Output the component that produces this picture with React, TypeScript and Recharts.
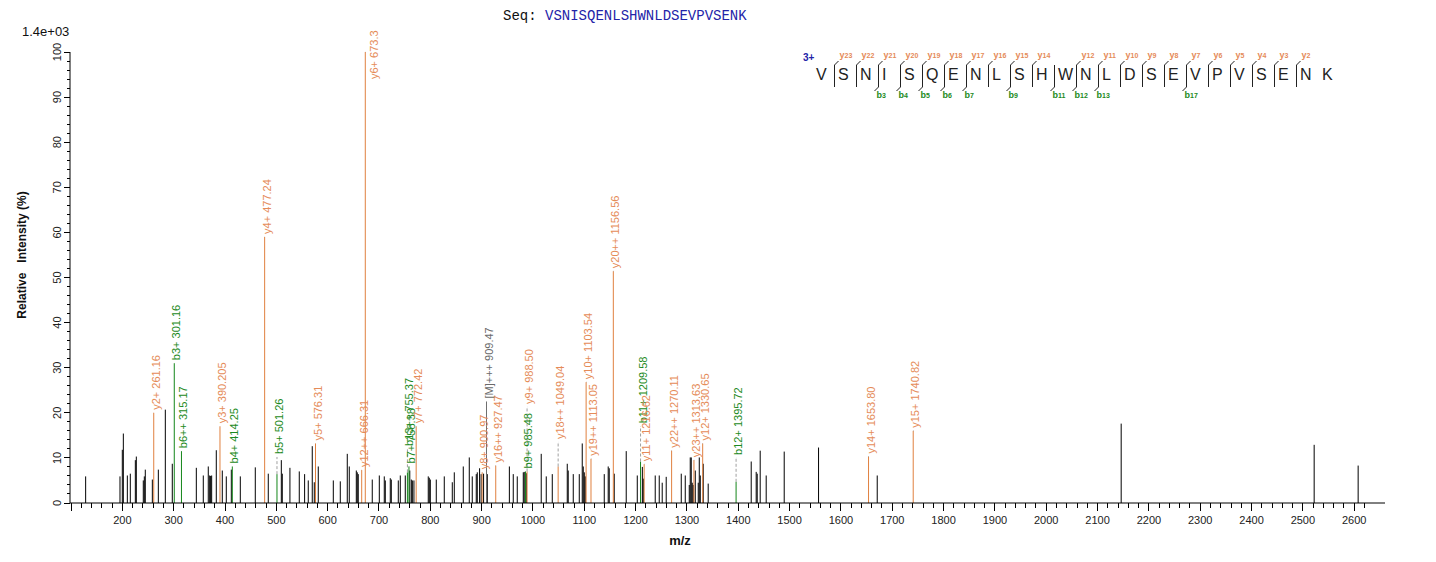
import { ScatterChart, Scatter, XAxis, YAxis, ErrorBar } from 'recharts';

const FONT = 'Arial, "Liberation Sans", sans-serif';

// unannotated peaks: [m/z, relative intensity %]
const otherPeaks: [number, number][] = [
  [128.5, 5.9], [195.4, 5.9], [199.9, 11.8], [201.9, 15.4], [209.7, 6.1], [215.5, 6.5],
  [225.3, 9.5], [227.2, 10.3], [240.8, 5.0], [242.8, 5.9], [244.7, 7.4], [258.4, 5.2],
  [270.1, 7.4], [283.7, 20.7], [297.3, 8.7], [344.1, 7.8], [357.7, 6.1], [367.4, 8.1],
  [370.1, 6.1], [372.0, 6.0], [374.0, 6.1], [383.0, 11.7], [394.7, 7.2], [402.5, 5.9],
  [412.3, 7.4], [429.8, 5.9], [459.0, 7.9], [484.3, 6.5], [509.7, 9.5], [511.6, 6.5],
  [526.5, 7.8], [544.7, 7.0], [555.1, 6.4], [562.2, 5.0], [570.0, 12.6], [573.9, 4.6],
  [581.7, 8.1], [611.0, 5.0], [624.6, 4.8], [638.2, 10.9], [642.1, 8.1], [655.8, 7.2],
  [657.7, 6.8], [659.6, 6.4], [686.9, 5.2], [700.6, 6.1], [710.3, 5.9], [712.3, 5.0],
  [722.0, 5.5], [724.0, 5.2], [737.6, 5.0], [741.5, 6.1], [751.2, 6.1], [760.0, 7.2],
  [763.0, 5.2], [765.0, 5.0], [768.1, 5.0], [796.0, 5.9], [798.0, 5.6], [800.0, 5.2],
  [811.6, 5.2], [827.2, 5.9], [842.8, 4.6], [846.7, 6.8], [864.2, 8.1], [875.9, 10.1],
  [881.7, 5.9], [889.5, 6.4], [891.5, 6.8], [896.0, 7.7], [899.0, 6.4], [903.8, 6.5],
  [911.0, 6.4], [954.0, 8.1], [961.6, 6.4], [969.4, 5.9], [981.1, 6.8], [983.0, 6.9],
  [987.0, 6.6], [1016.1, 10.9], [1025.9, 5.9], [1037.6, 6.4], [1066.8, 8.7], [1068.7, 7.2],
  [1078.5, 6.4], [1090.2, 6.4], [1096.0, 13.2], [1098.0, 8.1], [1100.0, 6.8], [1101.9, 5.9],
  [1138.9, 6.4], [1146.6, 8.1], [1148.6, 7.7], [1158.3, 6.5], [1181.7, 11.5], [1203.2, 6.1],
  [1213.1, 8.0], [1215.0, 5.4], [1238.2, 6.1], [1246.0, 6.1], [1251.8, 4.5], [1259.6, 5.8],
  [1288.9, 6.5], [1296.7, 6.1], [1304.5, 4.0], [1306.4, 10.1], [1308.4, 10.1], [1310.3, 4.5],
  [1312.3, 4.0], [1316.2, 7.2], [1322.0, 4.5], [1324.0, 10.1], [1326.0, 6.1], [1331.7, 8.7],
  [1341.4, 4.3], [1425.2, 9.2], [1434.9, 6.9], [1436.9, 6.5], [1442.7, 11.6], [1454.4, 6.1],
  [1489.5, 11.4], [1556.4, 12.3], [1670.7, 6.1], [2146.0, 17.6], [2522.0, 12.9], [2607.7, 8.3],
];

// annotated ions: [ion, m/z as printed, relative intensity %]
const yIons: [string, string, number][] = [
  ['y2+', '261.16', 20.0], ['y3+', '390.205', 17.0], ['y4+', '477.24', 59.0],
  ['y5+', '576.31', 13.2], ['y12++', '666.31', 7.3], ['y6+', '673.3', 100],
  ['y7+', '772.42', 17.0], ['y8+', '900.97', 6.8], ['y16++', '927.47', 8.3],
  ['y9+', '988.50', 7.0], ['y18++', '1049.04', 8.1], ['y10+', '1103.54', 26.8],
  ['y19++', '1113.05', 9.8], ['y20++', '1156.56', 51.4], ['y11+', '1216.62', 8.6],
  ['y22++', '1270.11', 11.6], ['y23++', '1313.63', 9.5], ['y12+', '1330.65', 13.2],
  ['y14+', '1653.80', 10.3], ['y15+', '1740.82', 16.0],
];

const bIons: [string, string, number][] = [
  ['b3+', '301.16', 31.0], ['b6++', '315.17', 11.5], ['b4+', '414.25', 8.1],
  ['b5+', '501.26', 6.4], ['b13++', '755.37', 6.8], ['b7+', '758.38', 8.1],
  ['b9+', '985.48', 7.0], ['b11+', '1209.58', 9.2], ['b12+', '1395.72', 4.7],
];

const precursorIons: [string, string, number][] = [['[M]+++', '909.47', 22.5]];

// sequence coverage map
const peptide = 'VSNISQENLSHWNLDSEVPVSENK';
const precursorCharge = '3+';
const yCoverage = [23, 22, 21, 20, 19, 18, 17, 16, 15, 14, 12, 11, 10, 9, 8, 7, 6, 5, 4, 3, 2];
const bCoverage = [3, 4, 5, 6, 7, 9, 11, 12, 13, 17];

const xMajorTicks = [200, 300, 400, 500, 600, 700, 800, 900, 1000, 1100, 1200, 1300, 1400,
  1500, 1600, 1700, 1800, 1900, 2000, 2100, 2200, 2300, 2400, 2500, 2600];
const yMajorTicks = [0, 10, 20, 30, 40, 50, 60, 70, 80, 90, 100];
const intensityScale = '1.4e+03';

// labels that sit above their peak, at this intensity level
const raisedLabels: Record<string, number> = {
  'y9+': 21.3, 'y18++': 13.5, 'b5+': 10.2, 'b12+': 10, 'b11+': 17, 'b13++': 12,
};

const COLORS = {
  y: '#e0803f', yText: '#e58b58',
  b: '#14861a', bText: '#1c8a22',
  m: '#6f6f6f', mText: '#6a6a6a',
  seqBlue: '#2323a8',
};

const xTicks: number[] = [];
for (let v = 100; v <= 2620; v += 20) xTicks.push(v);
const yTicks: number[] = [];
for (let v = 0; v <= 100; v += 2) yTicks.push(v);

const peakRows = (rows: [number, number][]) =>
  rows.map(([mz, int]) => ({ mz, int, err: [int, 0] }));

const ionRows = (rows: [string, string, number][]) =>
  peakRows(rows.map(([, mzText, int]) => [parseFloat(mzText), int] as [number, number]));

const labelRows = (rows: [string, string, number][], color: string) =>
  rows.map(([ion, mzText, int]) => {
    const level = raisedLabels[ion] ?? int;
    return { mz: parseFloat(mzText), int: level, peak: int, err: [level - int, 0], text: `${ion} ${mzText}`, color };
  });

const labels = [
  ...labelRows(precursorIons, COLORS.mText),
  ...labelRows(bIons, COLORS.bText),
  ...labelRows(yIons, COLORS.yText),
];

const noMark = () => <g />;

function PeakLabel(props: any) {
  const { cx, cy, payload } = props;
  if (cx == null || cy == null) return <g />;
  // the base peak has no room above it, so its label goes alongside
  const beside = payload.peak >= 95;
  const y = beside ? cy + 27 : cy - 3;
  return (
    <text
      transform={`translate(${cx},${y}) rotate(-90)`}
      dy={beside ? 13 : 6}
      textAnchor="start"
      fontSize={11}
      fontFamily={FONT}
      fill={payload.color}
    >
      {payload.text}
    </text>
  );
}

function XTick(props: any) {
  const { x, y, payload } = props;
  const major = payload.value % 100 === 0;
  return (
    <g>
      <line x1={x} x2={x} y1={y} y2={y + (major ? 8 : 5)} stroke="#000" shapeRendering="crispEdges" />
      {major && xMajorTicks.includes(payload.value) && (
        <text x={x} y={y + 21} textAnchor="middle" fontSize={11} fontFamily={FONT} fill="#222">
          {payload.value}
        </text>
      )}
    </g>
  );
}

function YTick(props: any) {
  const { x, y, payload } = props;
  const major = yMajorTicks.includes(payload.value);
  return (
    <g>
      <line x1={x - (major ? 6 : 3)} x2={x} y1={y} y2={y} stroke="#000" shapeRendering="crispEdges" />
      {major && (
        <text transform={`translate(${x - 9},${y}) rotate(-90)`} textAnchor="middle" fontSize={11} fontFamily={FONT} fill="#222">
          {payload.value}
        </text>
      )}
    </g>
  );
}

// fragment coverage drawn over the peptide letters
function CoverageMap() {
  const left = 816;
  const step = 22;
  const cut = (i: number) => left + step * i - 3.5;
  const sites = Array.from(new Set([...yCoverage.map((n) => peptide.length - n), ...bCoverage])).sort((a, b) => a - b);
  return (
    <g fontFamily={FONT}>
      <text x={803} y={61} fontSize={10} fontWeight="bold" fill={COLORS.seqBlue}>{precursorCharge}</text>
      {peptide.split('').map((aa, i) => (
        <text key={i} x={left + step * i} y={80} fontSize={16} fill="#222">{aa}</text>
      ))}
      {sites.map((i) => (
        <line key={i} x1={cut(i)} x2={cut(i)} y1={65} y2={87} stroke="#222" strokeWidth={1} />
      ))}
      {yCoverage.map((n) => {
        const x = cut(peptide.length - n);
        return (
          <g key={`y${n}`}>
            <line x1={x} y1={65} x2={x + 4} y2={61} stroke="#222" />
            <text x={x + 5} y={58} fill={COLORS.yText} fontWeight="bold">
              <tspan fontSize={9}>y</tspan><tspan fontSize={7}>{n}</tspan>
            </text>
          </g>
        );
      })}
      {bCoverage.map((n) => {
        const x = cut(n);
        return (
          <g key={`b${n}`}>
            <line x1={x} y1={87} x2={x - 4} y2={91} stroke="#222" />
            <text x={x - 2} y={98} fill={COLORS.bText} fontWeight="bold">
              <tspan fontSize={9}>b</tspan><tspan fontSize={7}>{n}</tspan>
            </text>
          </g>
        );
      })}
    </g>
  );
}

export default function App() {
  return (
    <div style={{ position: 'absolute', left: 0, top: 0, width: 1436, height: 562, background: '#fff', fontFamily: FONT }}>
      <ScatterChart width={1436} height={562} margin={{ top: 52, right: 51, bottom: 29, left: 30 }}>
        <XAxis
          type="number"
          dataKey="mz"
          domain={[98, 2660]}
          ticks={xTicks}
          interval={0}
          tickSize={0}
          tickMargin={0}
          tickLine={false}
          tick={(p: any) => <XTick {...p} />}
          axisLine={{ stroke: '#000' }}
          height={30}
        />
        <YAxis
          type="number"
          dataKey="int"
          domain={[0, 100]}
          ticks={yTicks}
          interval={0}
          tickSize={0}
          tickMargin={0}
          tickLine={false}
          tick={(p: any) => <YTick {...p} />}
          axisLine={{ stroke: '#000' }}
          width={40}
        />
        <Scatter data={peakRows(otherPeaks)} shape={noMark} isAnimationActive={false}>
          <ErrorBar dataKey="err" direction="y" width={0} stroke="#000" strokeWidth={1} isAnimationActive={false} />
        </Scatter>
        <Scatter data={ionRows(precursorIons)} shape={noMark} isAnimationActive={false}>
          <ErrorBar dataKey="err" direction="y" width={0} stroke={COLORS.m} strokeWidth={1} isAnimationActive={false} />
        </Scatter>
        <Scatter data={ionRows(bIons)} shape={noMark} isAnimationActive={false}>
          <ErrorBar dataKey="err" direction="y" width={0} stroke={COLORS.b} strokeWidth={1} isAnimationActive={false} />
        </Scatter>
        <Scatter data={ionRows(yIons)} shape={noMark} isAnimationActive={false}>
          <ErrorBar dataKey="err" direction="y" width={0} stroke={COLORS.y} strokeWidth={1} isAnimationActive={false} />
        </Scatter>
        <Scatter data={labels} shape={(p: any) => <PeakLabel {...p} />} isAnimationActive={false}>
          <ErrorBar dataKey="err" direction="y" width={0} stroke="#a0a0a0" strokeWidth={1} strokeDasharray="3 2" isAnimationActive={false} />
        </Scatter>
      </ScatterChart>
      <svg width={1436} height={562} style={{ position: 'absolute', left: 0, top: 0, pointerEvents: 'none' }}>
        <text x={503} y={20} fontSize={14} fontFamily='"Liberation Mono", "Courier New", monospace' fill="#111">
          Seq: <tspan fill={COLORS.seqBlue}>{peptide}</tspan>
        </text>
        <text x={22} y={36} fontSize={13} fontFamily={FONT} fill="#111">{intensityScale}</text>
        <text
          transform="translate(26,255) rotate(-90)"
          textAnchor="middle"
          fontSize={12}
          fontWeight="bold"
          fontFamily={FONT}
          fill="#111"
          style={{ whiteSpace: 'pre' }}
        >
          {'Relative   Intensity (%)'}
        </text>
        <text x={680} y={545} textAnchor="middle" fontSize={13} fontWeight="bold" fontFamily={FONT} fill="#111">m/z</text>
        <CoverageMap />
      </svg>
    </div>
  );
}
